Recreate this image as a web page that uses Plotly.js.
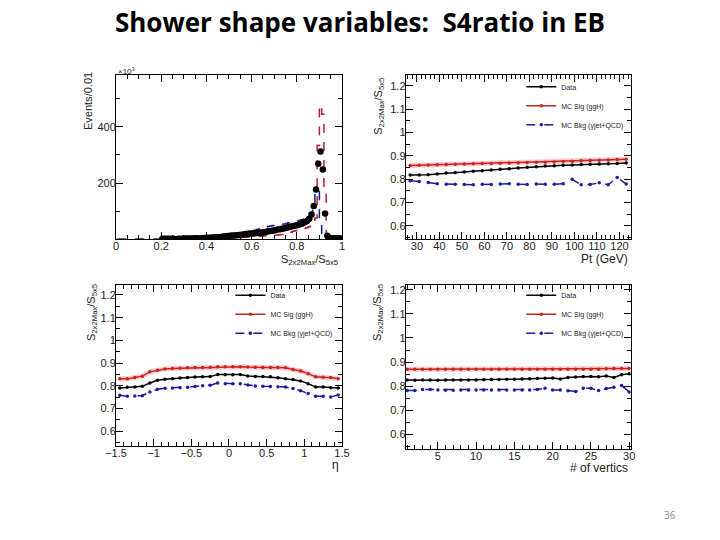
<!DOCTYPE html>
<html>
<head>
<meta charset="utf-8">
<script src="https://cdn.plot.ly/plotly-3.0.1.min.js"></script>
<style>
  html, body {margin: 0; padding: 0; background: #fff;}
  #graph {width: 720px; height: 540px;}
</style>
</head>
<body>
<div id="graph"></div>
<script>
//histogram binning (top left panel), events in units of 10^3
const histLow = 0
const histWidth = 0.01

//data points, bins 0.00 ... 0.99
const histData = [
  null, null, null, null, null, null, null, null, null, null,
  null, null, null, null, null, null, null, null, null, null,
  1, 1, 1, 1, 1, 1, null, 1, 1, 1,
  2, 2, 2, 2, 3, 3, 3, 3, 4, 4,
  5, 5, 6, 6, 7, 7, 8, 9, 10, 11,
  12, 13, 13, 14, 15, 16, 17, 18, 19, 20,
  20, 21, 22, 23, 24, 25, 26, 28, 29, 31,
  32, 34, 35, 37, 39, 41, 43, 45, 47, 49,
  50, 53, 56, 60, 65, 73, 88, 118, 177, 269,
  312, 248, 91, 12, 4, 3, 3, 3, 3, 3
]
//MC signal (ggH)
const histSig = [
  0, 0, 0, 0, 0, 0, 0, 0, 0, 0,
  0, 0, 0, 0, 0, 0, 0, 0, 0, 0,
  0, 0, 0, 0, 0, 0, 0, 0, 1, 1,
  1, 1, 1, 1, 1, 1, 1, 1, 2, 2,
  2, 2, 2, 3, 3, 3, 3, 4, 4, 4,
  5, 5, 5, 6, 6, 6, 7, 7, 8, 8,
  9, 9, 10, 10, 11, 11, 12, 12, 13, 13,
  14, 15, 16, 17, 19, 21, 23, 25, 28, 30,
  32, 34, 36, 38, 41, 44, 55, 62, 75, 334,
  478, 445, 181, 2, 0, 0, 0, 0, 0, 0
]
//MC background (gamma+jet, QCD)
const histBkg = [
  0, 0, 0, 0, 0, 0, 0, 0, 0, 0,
  0, 0, 0, 0, 0, 0, 0, 0, 0, 0,
  1, 1, 1, 1, 1, 1, 1, 1, 1, 1,
  2, 2, 2, 2, 3, 3, 3, 4, 4, 4,
  5, 6, 6, 7, 8, 8, 9, 10, 11, 12,
  13, 14, 15, 17, 18, 20, 22, 24, 26, 28,
  30, 32, 34, 36, 38, 41, 43, 45, 47, 49,
  50, 51, 52, 53, 54, 56, 58, 60, 62, 64,
  65, 67, 69, 72, 75, 79, 88, 121, 174, 170,
  60, 5, 1, 1, 1, 1, 1, 1, 1, 1
]

//profile vs Pt (top right)
const ptBins = [27, 31, 35, 39, 43, 47, 51, 55, 59, 63, 67, 71, 75, 79, 83, 87, 91, 95, 99, 103, 107, 111, 115, 119, 123]
const ptData = [0.818, 0.818, 0.819, 0.822, 0.826, 0.829, 0.831, 0.834, 0.836, 0.839, 0.842, 0.845, 0.848,
  0.851, 0.853, 0.856, 0.858, 0.860, 0.861, 0.863, 0.864, 0.865, 0.866, 0.867, 0.869]
const ptSig = [0.859, 0.860, 0.861, 0.862, 0.863, 0.864, 0.865, 0.866, 0.867, 0.867, 0.868, 0.869, 0.870,
  0.871, 0.872, 0.873, 0.874, 0.876, 0.877, 0.879, 0.880, 0.881, 0.882, 0.884, 0.885]
const ptBkg = [0.793, 0.790, 0.786, 0.780, 0.778, 0.778, 0.777, 0.776, 0.778, 0.777, 0.779, 0.780, 0.778,
  0.777, 0.779, 0.778, 0.778, 0.780, 0.799, 0.776, 0.777, 0.784, 0.776, 0.807, 0.779]

//profile vs eta (bottom left)
const etaBins = [-1.45, -1.35, -1.25, -1.15, -1.05, -0.95, -0.85, -0.75, -0.65, -0.55, -0.45, -0.35, -0.25, -0.15, -0.05,
  0.05, 0.15, 0.25, 0.35, 0.45, 0.55, 0.65, 0.75, 0.85, 0.95, 1.05, 1.15, 1.25, 1.35, 1.45]
const etaData = [0.790, 0.793, 0.794, 0.797, 0.812, 0.824, 0.828, 0.831, 0.834, 0.836, 0.838, 0.839, 0.840, 0.849, 0.848,
  0.848, 0.849, 0.843, 0.841, 0.840, 0.839, 0.835, 0.831, 0.827, 0.821, 0.809, 0.794, 0.794, 0.791, 0.790]
const etaSig = [0.830, 0.830, 0.836, 0.842, 0.861, 0.868, 0.874, 0.876, 0.877, 0.879, 0.880, 0.880, 0.881, 0.884, 0.884,
  0.884, 0.884, 0.882, 0.881, 0.880, 0.880, 0.880, 0.879, 0.871, 0.865, 0.853, 0.839, 0.837, 0.836, 0.831]
const etaBkg = [0.758, 0.753, 0.755, 0.756, 0.772, 0.784, 0.789, 0.790, 0.791, 0.793, 0.796, 0.800, 0.802, 0.812, 0.809,
  0.809, 0.808, 0.803, 0.799, 0.797, 0.796, 0.795, 0.794, 0.787, 0.778, 0.765, 0.753, 0.753, 0.750, 0.759]

//profile vs number of vertices (bottom right)
const nvtxBins = [1, 2, 3, 4, 5, 6, 7, 8, 9, 10, 11, 12, 13, 14, 15, 16, 17, 18, 19, 20, 21, 22, 23, 24, 25, 26, 27, 28, 29, 30]
const nvtxData = [0.826, 0.825, 0.826, 0.826, 0.825, 0.826, 0.826, 0.826, 0.826, 0.826, 0.827, 0.828, 0.828, 0.829, 0.829,
  0.830, 0.831, 0.832, 0.833, 0.834, 0.830, 0.836, 0.838, 0.840, 0.840, 0.839, 0.842, 0.836, 0.847, 0.852]
const nvtxSig = [0.870, 0.870, 0.870, 0.870, 0.870, 0.870, 0.870, 0.870, 0.870, 0.870, 0.870, 0.870, 0.870, 0.870, 0.870,
  0.870, 0.870, 0.870, 0.870, 0.870, 0.870, 0.870, 0.870, 0.870, 0.870, 0.870, 0.872, 0.873, 0.873, 0.873]
const nvtxBkg = [0.782, 0.782, 0.786, 0.786, 0.784, 0.783, 0.783, 0.784, 0.784, 0.784, 0.784, 0.784, 0.784, 0.784, 0.784,
  0.784, 0.784, 0.786, 0.791, 0.784, 0.784, 0.781, 0.778, 0.791, 0.791, 0.782, 0.790, 0.795, 0.803, 0.776]

//labels
const legendNames = ['Data', 'MC Sig (ggH)', 'MC Bkg (\u03b3jet+QCD)']
const ratioTitle = 'S<sub>2x2Max</sub>/S<sub>5x5</sub>'

//colours
const black = '#000000'
const red = '#cc2222'
const band = 'rgba(235, 110, 110, 0.35)'
const blue = '#1c1c9e'
const histRed = '#b3202c'
const histBlue = '#16168c'
const font = 'Liberation Sans, Arial, sans-serif'

//bin centres of the histogram
const histX = histData.map((_, i) => histLow + (i + 0.5) * histWidth)

//set up traces
const data = []

//top left: histograms
data.push({
  x: histX, y: histSig, xaxis: 'x', yaxis: 'y',
  type: 'scatter', mode: 'lines', line: {shape: 'hvh', color: histRed, width: 1.5, dash: 'dash'},
  showlegend: false
})
data.push({
  x: histX, y: histBkg, xaxis: 'x', yaxis: 'y',
  type: 'scatter', mode: 'lines', line: {shape: 'hvh', color: histBlue, width: 1.5, dash: 'dash'},
  showlegend: false
})
data.push({
  x: histX, y: histData, xaxis: 'x', yaxis: 'y',
  type: 'scatter', mode: 'markers', marker: {color: black, size: 6.5},
  showlegend: false
})

//profile panels
function addProfile(x, yData, ySig, yBkg, ax, legendId) {
  const xa = 'x' + ax
  const ya = 'y' + ax
  //error band of the signal
  data.push({
    x: x, y: ySig, xaxis: xa, yaxis: ya,
    type: 'scatter', mode: 'lines', line: {color: band, width: 5},
    showlegend: false, hoverinfo: 'skip'
  })
  data.push({
    x: x, y: yData, xaxis: xa, yaxis: ya, name: legendNames[0], legend: legendId,
    type: 'scatter', mode: 'lines+markers',
    line: {color: black, width: 1.5}, marker: {color: black, size: 3.5}
  })
  data.push({
    x: x, y: ySig, xaxis: xa, yaxis: ya, name: legendNames[1], legend: legendId,
    type: 'scatter', mode: 'lines+markers',
    line: {color: red, width: 1.5}, marker: {color: red, size: 3.5}
  })
  data.push({
    x: x, y: yBkg, xaxis: xa, yaxis: ya, name: legendNames[2], legend: legendId,
    type: 'scatter', mode: 'lines+markers',
    line: {color: blue, width: 1.5, dash: 'dash'}, marker: {color: blue, size: 3.5}
  })
}
addProfile(ptBins, ptData, ptSig, ptBkg, '2', 'legend')
addProfile(etaBins, etaData, etaSig, etaBkg, '3', 'legend2')
addProfile(nvtxBins, nvtxData, nvtxSig, nvtxBkg, '4', 'legend3')

//axis in ROOT style
function axis(domain, range, dtick, minor, anchor) {
  return {
    domain: domain, range: range, anchor: anchor,
    dtick: dtick, tick0: 0,
    ticks: 'inside', ticklen: 7, tickwidth: 1, tickcolor: black,
    minor: {dtick: minor, ticks: 'inside', ticklen: 4, tickwidth: 1, tickcolor: black},
    mirror: 'allticks', showline: true, linecolor: black, linewidth: 1,
    showgrid: false, zeroline: false, automargin: false,
    ticklabelstandoff: -3,
    tickfont: {family: font, size: 11, color: '#222'}
  }
}

function legend(x, y) {
  return {
    x: x, y: y, xanchor: 'left', yanchor: 'top',
    bgcolor: 'rgba(0,0,0,0)', borderwidth: 0,
    font: {family: font, size: 7, color: '#222'},
    itemwidth: 30, tracegroupgap: 0
  }
}

//annotation helper for axis titles
function label(text, x, y, xanchor, angle, size) {
  return {
    text: text, x: x, y: y, xref: 'paper', yref: 'paper',
    xanchor: xanchor, yanchor: 'middle', textangle: angle || 0,
    showarrow: false, font: {family: font, size: size || 11, color: '#222'}
  }
}

const leftDom = [0.1611, 0.475]
const rightDom = [0.5635, 0.876]
const topDom = [0.5574, 0.8611]

const layout = {
  width: 720, height: 540,
  margin: {l: 0, r: 0, t: 0, b: 0},
  paper_bgcolor: '#fff', plot_bgcolor: '#fff',
  title: {
    text: 'Shower shape variables:\u00a0 S4ratio in EB',
    x: 0.5, xanchor: 'center', y: 0.958, yref: 'container', yanchor: 'middle',
    font: {family: 'Open Sans, sans-serif', size: 26, color: '#000', weight: 'bold'}
  },
  xaxis: axis(leftDom, [0, 1], 0.2, 0.05, 'y'),
  yaxis: axis(topDom, [0.5, 585], 200, 100, 'x'),
  xaxis2: axis(rightDom, [25, 125], 10, 2, 'y2'),
  yaxis2: axis(topDom, [0.543, 1.247], 0.1, 0.05, 'x2'),
  xaxis3: axis(leftDom, [-1.5, 1.5], 0.5, 0.1, 'y3'),
  yaxis3: axis([0.1741, 0.4722], [0.534, 1.244], 0.1, 0.05, 'x3'),
  xaxis4: axis(rightDom, [0.8, 30.2], 5, 1, 'y4'),
  yaxis4: axis([0.1685, 0.4722], [0.539, 1.22], 0.1, 0.05, 'x4'),
  legend: legend(0.724, 0.866),
  legend2: legend(0.32, 0.48),
  legend3: legend(0.724, 0.48),
  showlegend: true,
  annotations: [
    label('Events/0.01', 0.1222, 0.813, 'center', -90, 11),
    label('\u00d710<sup>3</sup>', 0.1615, 0.868, 'left', 0, 8),
    label(ratioTitle, 0.472, 0.519, 'right', 0, 11),
    label(ratioTitle, 0.526, 0.8037, 'center', -90, 11),
    label('Pt (GeV)', 0.875, 0.521, 'right', 0, 12),
    label(ratioTitle, 0.1278, 0.4204, 'center', -90, 11),
    label('\u03b7', 0.473, 0.138, 'right', 0, 12),
    label(ratioTitle, 0.525, 0.4204, 'center', -90, 11),
    label('# of vertics', 0.875, 0.134, 'right', 0, 12),
    {
      text: '36', x: 0.9306, y: 0.0463, xref: 'paper', yref: 'paper',
      xanchor: 'center', yanchor: 'middle', showarrow: false,
      font: {family: 'Open Sans, sans-serif', size: 10, color: '#8c8c8c'}
    }
  ]
}

const config = {displayModeBar: false, staticPlot: true}

Plotly.newPlot(document.getElementById('graph'), data, layout, config)
</script>
</body>
</html>
